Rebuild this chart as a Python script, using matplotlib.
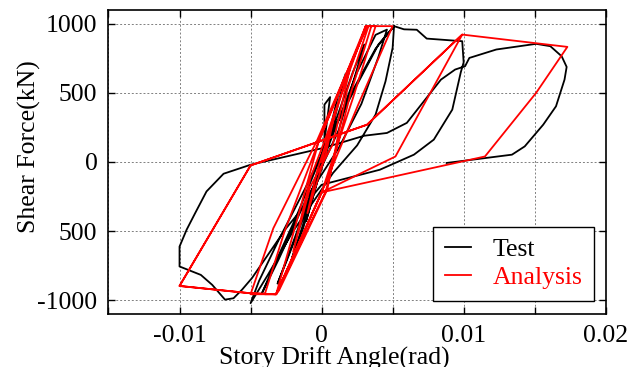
"""
Shear force vs. story drift angle: test and analysis hysteresis loops.

Output: out.png
"""

import matplotlib.pyplot as plt
from matplotlib.ticker import FixedLocator

# Test curve (story drift angle in rad, shear force in kN)
test_drift = [
    0.0, 0.0002, 0.0002, 0.0006, 0.0002, -0.0006, -0.0011, -0.0004, 0.0004,
    0.0012, 0.0017, 0.0010, 0.0000, -0.0012, -0.0021, -0.0013, -0.0003,
    0.0010, 0.0022, 0.0030, 0.0024, 0.0012, -0.0005, -0.0020, -0.0031,
    -0.0024, -0.0010, 0.0005, 0.0025, 0.0038, 0.0046, 0.0040, 0.0028,
    0.0012, -0.0010, -0.0030, -0.0042, -0.0034, -0.0018, 0.0002, 0.0025,
    0.0040, 0.0051, 0.0050, 0.0045, 0.0038, 0.0025, 0.0008, -0.0020,
    -0.0038, -0.0050, -0.0044, -0.0030, -0.0012, 0.0003, 0.0022, 0.0038,
    0.0051, 0.0058, 0.0067, 0.0074, 0.0099, 0.0100, 0.0098, 0.0092,
    0.0079, 0.0065, 0.0041, 0.0000, -0.0025, -0.0049, -0.0056, -0.0062,
    -0.0068, -0.0077, -0.0085, -0.0100, -0.0100, -0.0095, -0.0089, -0.0081,
    -0.0069, -0.0050, 0.0001, 0.0030, 0.0046, 0.0060, 0.0084, 0.0094,
    0.0101, 0.0104, 0.0123, 0.0151, 0.0161, 0.0169, 0.01725, 0.0171,
    0.0165, 0.0156, 0.0143, 0.0134, 0.0088,
]
test_force = [
    0, 100, 415, 470, 150, -250, -430, -180, 150,
    500, 640, 350, -50, -420, -700, -480, -120,
    300, 650, 850, 640, 230, -150, -580, -880,
    -700, -330, 120, 650, 920, 958, 760, 420,
    100, -250, -700, -950, -760, -400, 100, 560,
    850, 983, 826, 584, 343, 120, -80, -500,
    -820, -1022, -860, -560, -200, 120, 520, 820,
    983, 960, 957, 893, 874, 721, 650, 379,
    162, 53, -56, -165, -480, -840, -924, -986,
    -996, -889, -817, -756, -612, -490, -370, -213,
    -85, -20, 101, 190, 210, 283, 596, 669,
    693, 753, 814, 855, 838, 765, 688, 596,
    403, 270, 113, 53, -7,
]

# Analysis curve
analysis_drift = [
    0.0, 0.0010, 0.0003, -0.0010, -0.0003, 0.0020, 0.0008, -0.0008, -0.0020,
    -0.0008, 0.0002, 0.0031, 0.0033, 0.0018, 0.0004, -0.0030, -0.0032,
    -0.0020, -0.0002, 0.0031, 0.0035, 0.0020, 0.0003, -0.0032, -0.0040,
    -0.0026, -0.0002, 0.0032, 0.0038, 0.0022, 0.0000, -0.0032, -0.0050,
    -0.0034, -0.0003, 0.0032, 0.0050, 0.0026, 0.0000, -0.0032, -0.0050,
    -0.0100, -0.0050, 0.0032, 0.0099, 0.0052, 0.0000, -0.0032, -0.0050,
    -0.0100, -0.0050, 0.0032, 0.0099, 0.0173, 0.0151, 0.0115, 0.0000,
]
analysis_force = [
    0, 380, 60, -370, -60, 680, 130, -180, -650,
    -120, 150, 983, 983, 520, -200, -930, -957,
    -520, 150, 983, 983, 480, -210, -957, -957,
    -500, 150, 983, 983, 460, -220, -957, -957,
    -480, 160, 983, 983, 420, -220, -957, -950,
    -897, -25, 270, 922, 40, -220, -957, -950,
    -897, -25, 270, 922, 833, 500, 40, -220,
]

x_ticks = [-0.015, -0.01, -0.005, 0, 0.005, 0.01, 0.015, 0.02]
x_tick_labels = ["", "-0.01", "", "0", "", "0.01", "", "0.02"]
y_ticks = [-1000, -500, 0, 500, 1000]
y_tick_labels = ["-1000", "500", "0", "500", "1000"]

plt.rcParams["font.family"] = ["Liberation Serif", "DejaVu Serif"]

fig = plt.figure(figsize=(6.33, 3.67), dpi=100)
ax = fig.add_axes([0.1714, 0.1444, 0.7855, 0.8284])

ax.plot(test_drift, test_force, color="black", lw=1.3, label="Test")
ax.plot(analysis_drift, analysis_force, color="red", lw=1.3, label="Analysis")

ax.set_xlim(-0.015, 0.02)
ax.set_ylim(-1100, 1100)
ax.xaxis.set_major_locator(FixedLocator(x_ticks))
ax.set_xticklabels(x_tick_labels)
ax.set_yticks(y_ticks)
ax.set_yticklabels(y_tick_labels)

ax.tick_params(direction="in", length=5, width=1, top=True, right=True,
               labelsize=18.5, pad=8, colors="black")
ax.grid(True, color="#808080", lw=0.7, ls=(0, (2, 2)))
for spine in ax.spines.values():
    spine.set_linewidth(1.2)

ax.set_xlabel("Story Drift Angle(rad)", fontsize=18.5)
ax.xaxis.set_label_coords(0.455, -0.108, transform=ax.transAxes)
ax.xaxis.label.set_va("top")
ax.set_ylabel("Shear Force(kN)", fontsize=18.5)
ax.yaxis.set_label_coords(-0.135, 0.55, transform=ax.transAxes)

leg = ax.legend(loc="lower right", bbox_to_anchor=(0.9765, 0.043),
                borderaxespad=0, fontsize=18.5, frameon=True, fancybox=False,
                edgecolor="black", framealpha=1, handlelength=1.0,
                handletextpad=0.85, borderpad=0.45, labelspacing=0.2)
leg.get_frame().set_linewidth(1.0)
for text, color in zip(leg.get_texts(), ["black", "red"]):
    text.set_color(color)

fig.savefig("out.png", dpi=100)
